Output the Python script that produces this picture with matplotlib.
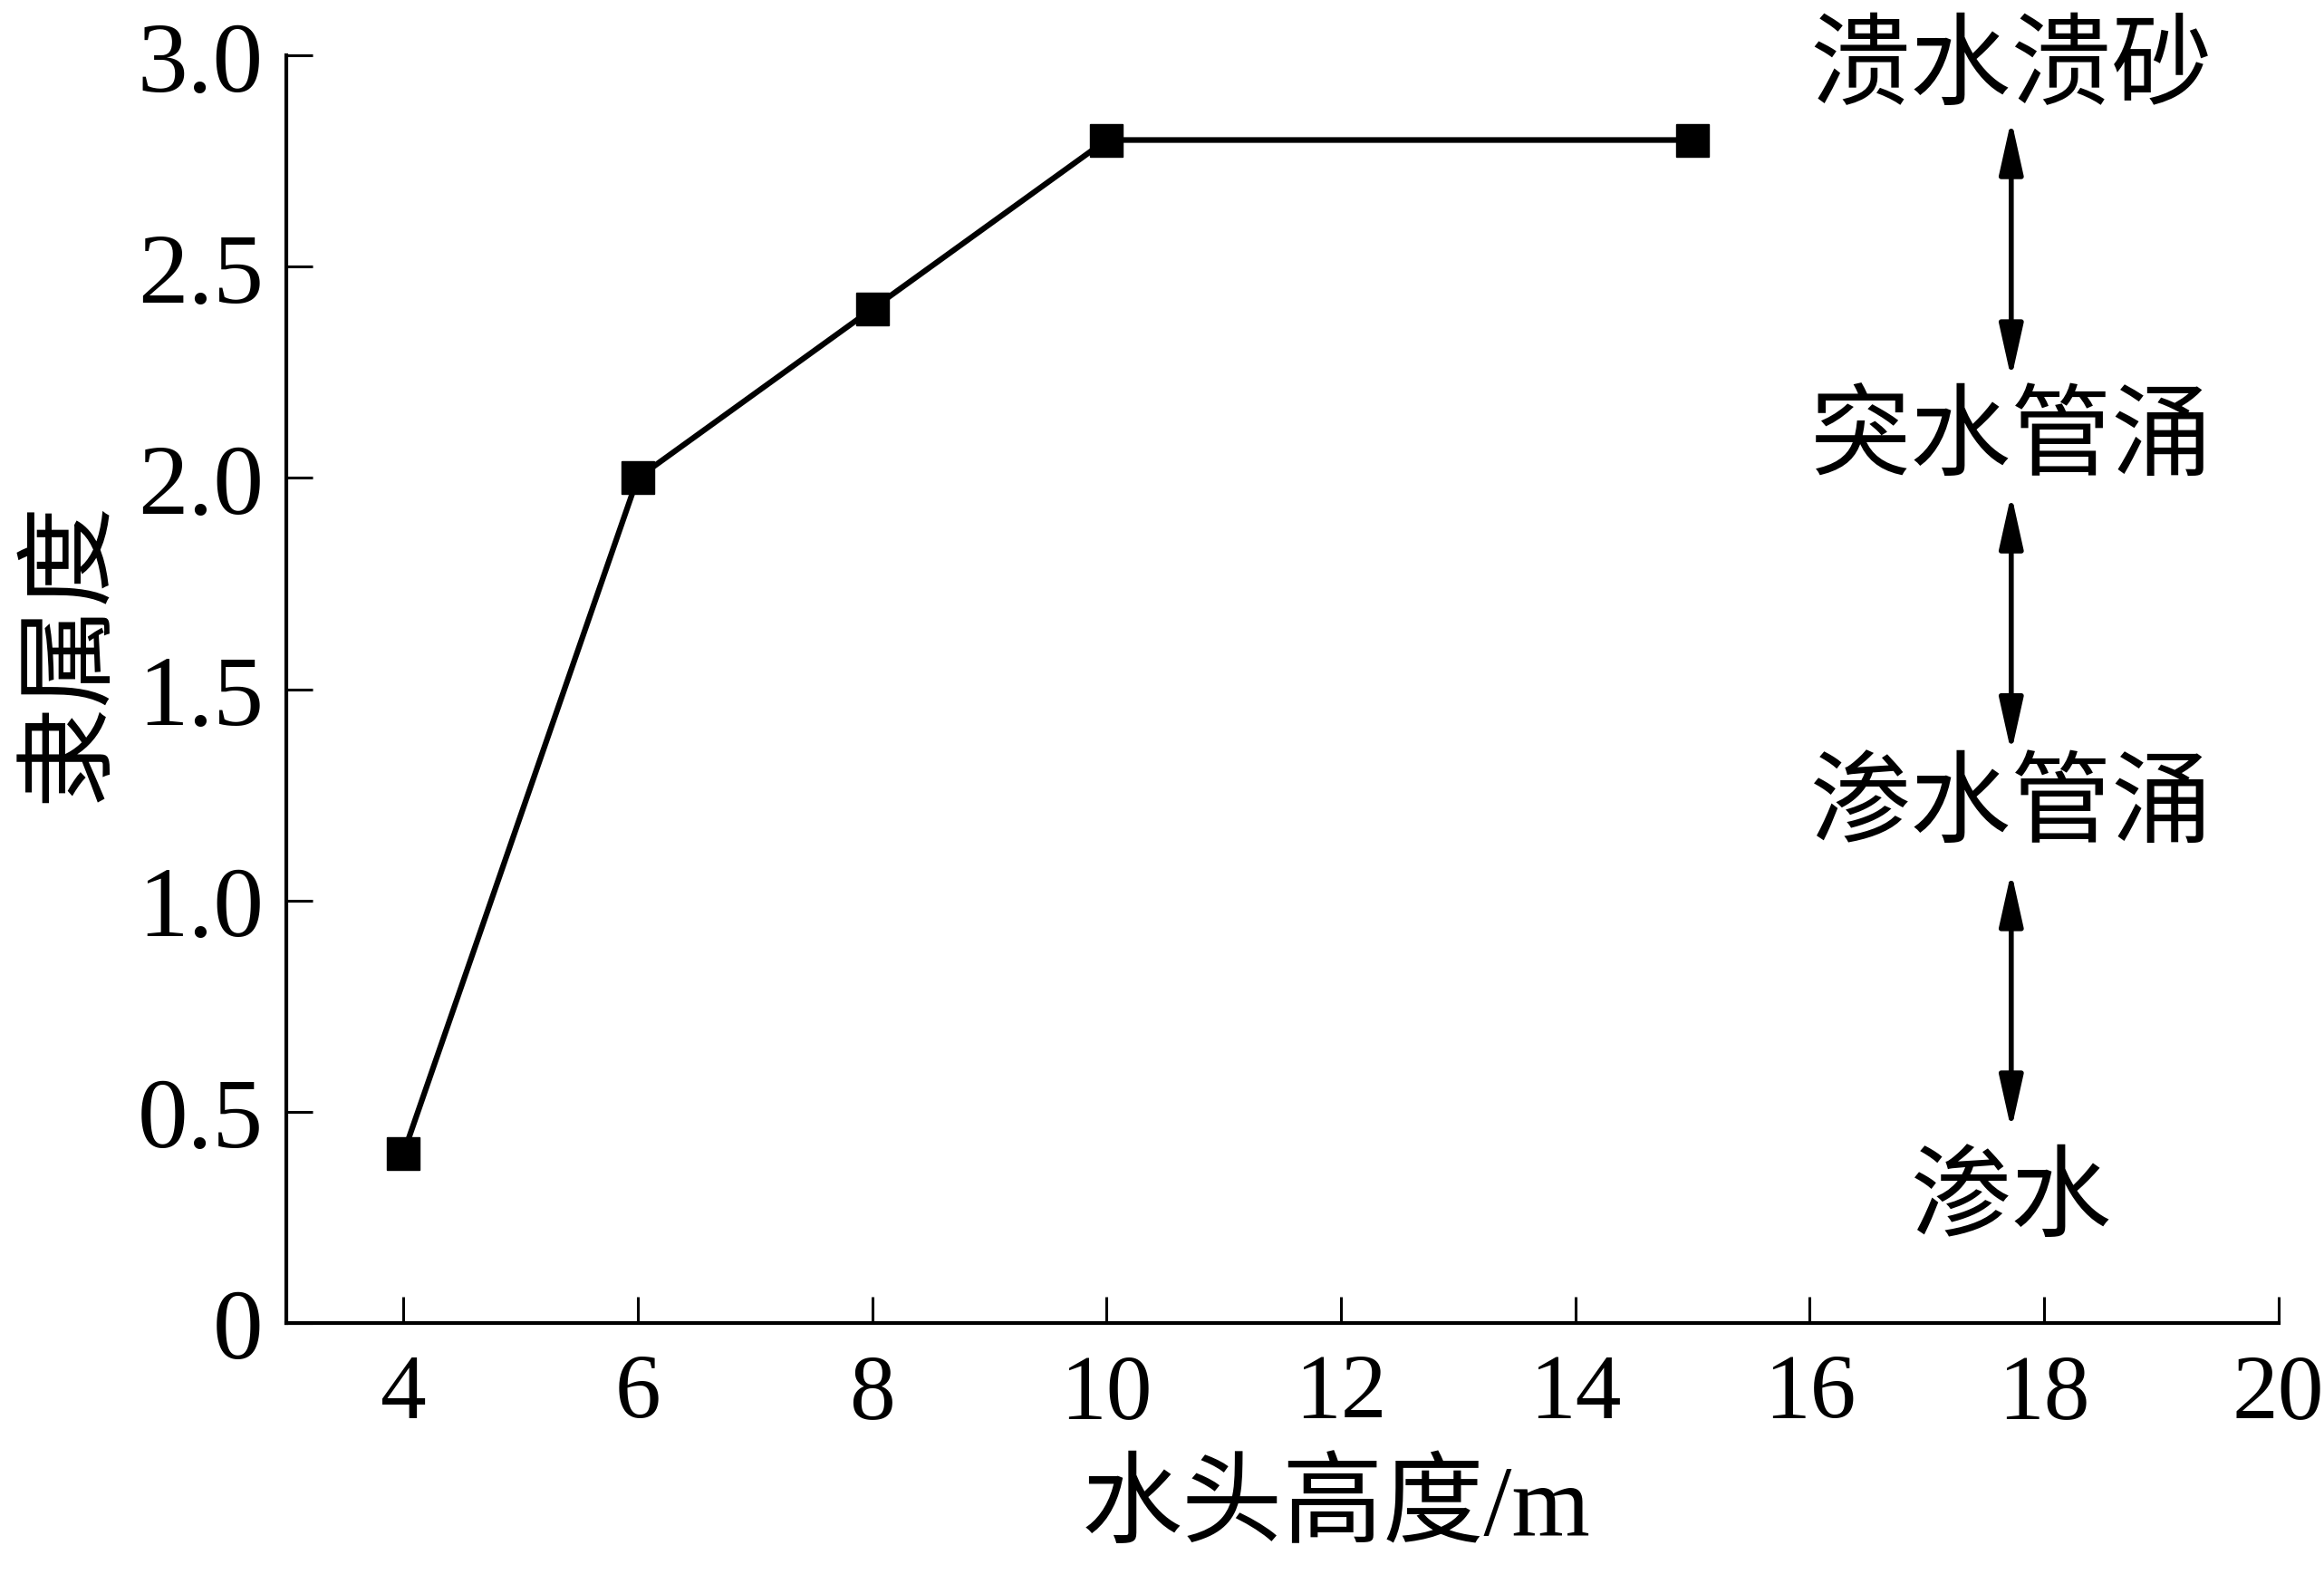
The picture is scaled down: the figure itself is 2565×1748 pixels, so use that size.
import matplotlib
matplotlib.use("Agg")
import matplotlib.pyplot as plt

plt.rcParams['font.family'] = ['Liberation Serif', 'Noto Sans CJK SC']

# data
head_height = [4, 6, 8, 10, 15]
membership = [0.4, 2.0, 2.4, 2.8, 2.8]
xticks = [4, 6, 8, 10, 12, 14, 16, 18, 20]
yticks = [0, 0.5, 1.0, 1.5, 2.0, 2.5, 3.0]
ytick_labels = ['0', '0.5', '1.0', '1.5', '2.0', '2.5', '3.0']
stage_labels = ['溃水溃砂', '突水管涌', '渗水管涌', '渗水']
stage_y = [2.965, 2.085, 1.22, 0.285]
arrow_spans = [(2.235, 2.848), (1.35, 1.962), (0.457, 1.068)]
stage_x = 17.72

fs = 80
fig = plt.figure(figsize=(25.65, 17.49), dpi=100)
ax = fig.add_axes([0.1231, 0.1647, 0.9804 - 0.1231, 0.9644 - 0.1647])

ax.plot(head_height, membership, color='black', lw=4.5, marker='s',
        markersize=26, markerfacecolor='black', markeredgecolor='black', zorder=3)

ax.set_xlim(3, 20)
ax.set_ylim(0, 3.0)
ax.set_xticks(xticks)
ax.set_xticklabels([str(v) for v in xticks])
ax.set_yticks(yticks)
ax.set_yticklabels(ytick_labels)

for s in ['top', 'right']:
    ax.spines[s].set_visible(False)
for s in ['left', 'bottom']:
    ax.spines[s].set_linewidth(3.0)

ax.tick_params(axis='both', direction='in', length=21, width=2.2,
               labelsize=fs, colors='black')
ax.tick_params(axis='x', pad=24, labelsize=73)
ax.tick_params(axis='y', pad=18)

ax.set_xlabel('水头高度/m', fontsize=fs)
ax.xaxis.set_label_coords(0.527, -0.146)
ax.xaxis.label.set_va('center')
ax.set_ylabel('隶属度', fontsize=fs)
ax.yaxis.set_label_coords(-0.108, 0.53)
ax.yaxis.label.set_va('center')

for lab, yy in zip(stage_labels, stage_y):
    ax.text(stage_x, yy, lab, ha='center', va='center', fontsize=fs, clip_on=False)

for y0, y1 in arrow_spans:
    ax.annotate('', xy=(stage_x, y0), xytext=(stage_x, y1),
                arrowprops=dict(arrowstyle='<|-|>,head_length=36,head_width=8',
                                mutation_scale=1, lw=4, color='black',
                                shrinkA=0, shrinkB=0))

fig.savefig('out.png', dpi=100, facecolor='white')
